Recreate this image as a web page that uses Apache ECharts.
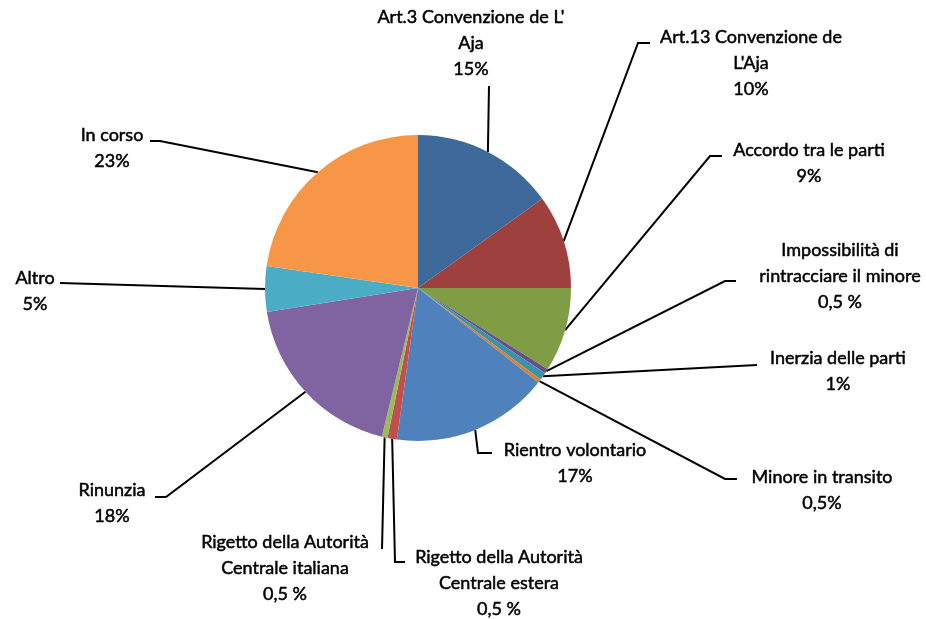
<!DOCTYPE html>
<html>
<head>
<meta charset="utf-8">
<script src="https://cdn.jsdelivr.net/npm/echarts@6/dist/echarts.min.js"></script>
<style>
html,body{margin:0;padding:0;background:#fff;}
#chart{width:926px;height:619px;}
</style>
</head>
<body>
<div id="chart"></div>
<script>
// ---- data ----
const categories = [
  "Art.3 Convenzione de L'\nAja",
  "Art.13 Convenzione de\nL'Aja",
  "Accordo tra le parti",
  "Impossibilità di\nrintracciare il minore",
  "Inerzia delle parti",
  "Minore in transito",
  "Rientro volontario",
  "Rigetto della Autorità\nCentrale estera",
  "Rigetto della Autorità\nCentrale italiana",
  "Rinunzia",
  "Altro",
  "In corso"
];
const values = [15.1, 9.9, 8.9, 0.5, 0.8, 0.4, 16.6, 1.0, 0.6, 18.7, 4.8, 22.7];
const pctLabels = ["15%", "10%", "9%", "0,5 %", "1%", "0,5%", "17%", "0,5 %", "0,5 %", "18%", "5%", "23%"];

// ---- styles / layout (not data) ----
const colors = ["#3E6A9B", "#9E413E", "#7F9D45", "#684F8A", "#3A93AB", "#D98039",
                "#4F81BD", "#C0504D", "#9BBB59", "#8064A2", "#4BACC6", "#F79646"];
// label block: [centerX, first line centre Y]
const labelBox = [
  [471, 17], [751, 37], [809, 150], [840, 250], [838, 358], [822, 477],
  [575, 450], [499, 557], [285, 542], [112, 490], [35, 278], [112, 135]
];
// leader points after the slice anchor
const leaderPts = [
  [[489, 86]],
  [[638, 43], [650, 43]],
  [[710, 156], [722, 156]],
  [[725, 281], [736, 281]],
  [[757, 365]],
  [[725, 479], [737, 479]],
  [[478, 453], [492, 453]],
  [[395, 562], [405, 562]],
  [[382, 549]],
  [[166, 497], [155, 497]],
  [[60, 283]],
  [[160, 141], [150, 141]]
];
const LH = 26;

const chart = echarts.init(document.getElementById('chart'), null, {renderer: 'canvas'});
chart.setOption({
  backgroundColor: '#fff',
  animation: false,
  series: [{
    type: 'pie',
    center: [418, 288],
    radius: 153,
    startAngle: 90,
    clockwise: true,
    avoidLabelOverlap: false,
    data: categories.map((c, i) => ({
      name: c, value: values[i], itemStyle: {color: colors[i]}
    })),
    label: {
      show: true,
      position: 'outside',
      formatter: p => p.name + '\n' + pctLabels[p.dataIndex],
      fontFamily: 'Lato',
      fontSize: 18,
      lineHeight: LH,
      color: '#000',
      textBorderColor: '#000',
      textBorderWidth: 0.5,
      align: 'center'
    },
    labelLine: {
      show: true,
      smooth: false,
      lineStyle: {color: '#000', width: 2}
    },
    labelLayout: function (params) {
      const i = params.dataIndex;
      const anchor = params.labelLinePoints ? params.labelLinePoints[0] : null;
      const pts = anchor ? [anchor].concat(leaderPts[i]) : undefined;
      return {
        x: labelBox[i][0],
        y: labelBox[i][1] - LH / 2,
        align: 'center',
        verticalAlign: 'top',
        labelLinePoints: pts
      };
    }
  }]
});
</script>
</body>
</html>
